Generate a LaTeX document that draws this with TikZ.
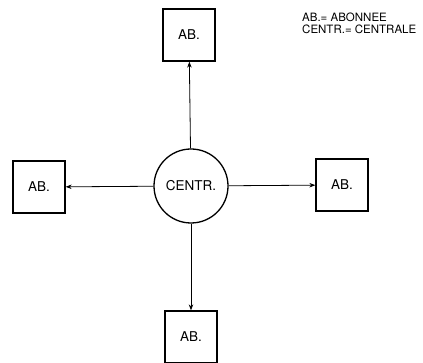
\documentclass[tikz,border=0pt]{standalone}
\usepackage{fontspec}
\setmainfont{TeX Gyre Heros}
\usetikzlibrary{arrows.meta}
\begin{document}
\begin{tikzpicture}[x=1pt,y=-1pt,
  ab/.style={draw,line width=1.3pt,minimum width=52pt,minimum height=52pt,inner sep=0pt,font=\fontsize{13.5}{15}\selectfont},
  ctr/.style={draw,circle,line width=1.3pt,minimum size=74pt,inner sep=0pt,font=\fontsize{13.5}{15}\selectfont},
  link/.style={line width=0.8pt,-{Stealth[length=6pt,width=4.5pt]}},
  legend/.style={anchor=north west,align=left,inner sep=0pt,font=\fontsize{11.5}{12}\selectfont}]
\useasboundingbox (0,0) rectangle (423,363);
\node[ctr] (c) at (191,186) {CENTR.};
\node[ab] (t) at (189,35) {AB.};
\node[ab] (l) at (39,187) {AB.};
\node[ab] (r) at (342,185) {AB.};
\node[ab] (b) at (191,337) {AB.};
\draw[link] (c) -- (t);
\draw[link] (c) -- (l);
\draw[link] (c) -- (r);
\draw[link] (c) -- (b);
\node[legend] (lg) at (302,13) {AB.= ABONNEE\\CENTR.= CENTRALE};
\end{tikzpicture}
\end{document}
